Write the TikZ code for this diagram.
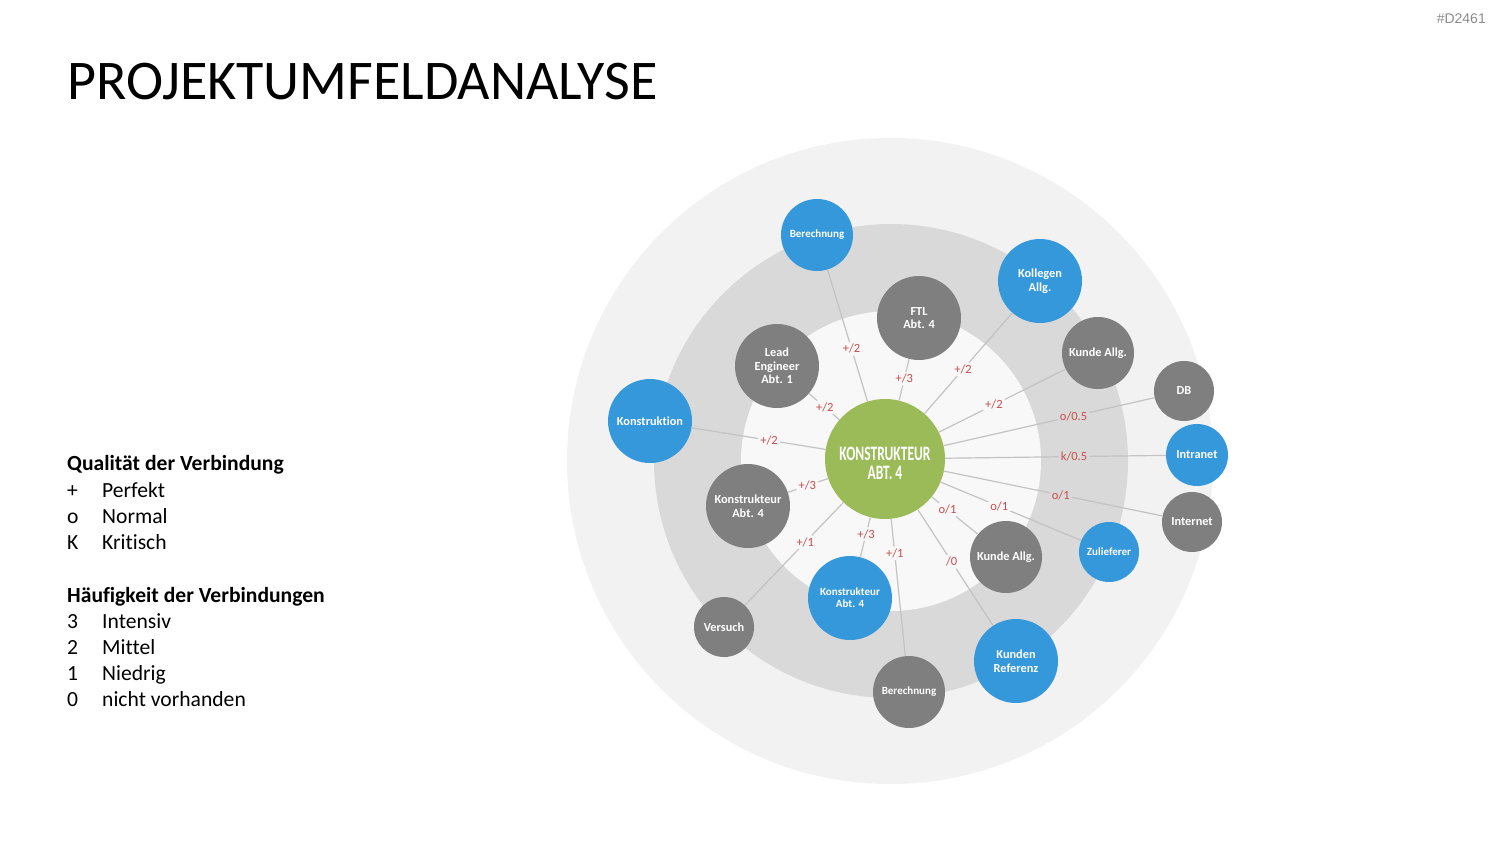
\documentclass[tikz,border=0pt]{standalone}
\usepackage{fontspec}
\setmainfont{Carlito}[Ligatures=CommonOff]
\newfontfamily\hdrfont{Liberation Sans}
\usetikzlibrary{calc}
\definecolor{ringA}{HTML}{F2F2F2}
\definecolor{ringB}{HTML}{D9D9D9}
\definecolor{ringC}{HTML}{F8F8F8}
\definecolor{nblue}{HTML}{3498DB}
\definecolor{ngrey}{HTML}{7F7F7F}
\definecolor{ngreen}{HTML}{9BBB59}
\definecolor{lred}{HTML}{C94C4C}
\definecolor{lline}{HTML}{C3C3C3}
\definecolor{hdr}{HTML}{8C8C8C}
\begin{document}
\begin{tikzpicture}[x=1pt,y=-1pt,
  bub/.style={circle, draw=none, text=white, align=center, inner sep=0pt,
    font=\bfseries\fontsize{12.3}{13.5}\selectfont},
  bubB/.style={bub, fill=nblue},
  bubG/.style={bub, fill=ngrey},
  con/.style={draw=lline, line width=1.2pt},
  lab/.style={text=lred, font=\fontsize{12.5}{13}\selectfont, inner sep=2pt},
  leg/.style={anchor=base west, inner sep=0pt, font=\fontsize{21.6}{24}\selectfont},
  legh/.style={anchor=base west, inner sep=0pt, font=\bfseries\fontsize{21.6}{24}\selectfont}]
\path[use as bounding box, fill=white] (0,0) rectangle (1500,844);

% header and title
\node[anchor=east, inner sep=0pt, text=hdr, font=\hdrfont\fontsize{14}{16}\selectfont] (hdr) at (1486,19) {\#D2461};
\node[anchor=west, inner sep=0pt, font=\fontsize{56}{60}\selectfont] (title) at (67,82) {PROJEKTUMFELDANALYSE};

% legend
\node[legh] (q) at (67,470) {Qualität der Verbindung};
\node[leg] (q1s) at (67,497) {+};  \node[leg] (q1) at (102,497) {Perfekt};
\node[leg] (q2s) at (67,523) {o};  \node[leg] (q2) at (102,523) {Normal};
\node[leg] (q3s) at (67,549) {K};  \node[leg] (q3) at (102,549) {Kritisch};
\node[legh] (h) at (67,602) {Häufigkeit der Verbindungen};
\node[leg] (h1s) at (67,628) {3};  \node[leg] (h1) at (102,628) {Intensiv};
\node[leg] (h2s) at (67,654) {2};  \node[leg] (h2) at (102,654) {Mittel};
\node[leg] (h3s) at (67,680) {1};  \node[leg] (h3) at (102,680) {Niedrig};
\node[leg] (h4s) at (67,706) {0};  \node[leg] (h4) at (102,706) {nicht vorhanden};

% rings
\fill[ringA] (890,461) circle (323);
\fill[ringB] (891,461) circle (237);
\fill[ringC] (891,461) circle (150);

% centre
\node[circle, fill=ngreen, minimum size=120pt, inner sep=0pt] (g) at (885,459) {};
\node[text=white, align=center, inner sep=0pt,
  font=\bfseries\fontsize{20.5}{19}\selectfont] (gtext) at (885,463)
  {\scalebox{0.66}[1]{KONSTRUKTEUR}\\\scalebox{0.66}[1]{ABT. 4}};

% satellites
\node[bubB, minimum size=72pt, font=\bfseries\fontsize{11}{12}\selectfont] (ber1) at (817,235) {Berechnung};
\node[bubG, minimum size=84pt] (ftl) at (919,318) {FTL\\Abt. 4};
\node[bubB, minimum size=84pt] (kol) at (1040,281) {Kollegen\\Allg.};
\node[bubG, minimum size=84pt] (lead) at (777,366) {Lead\\Engineer\\Abt. 1};
\node[bubG, minimum size=72pt] (ku1) at (1098,353) {Kunde Allg.};
\node[bubG, minimum size=60pt] (db) at (1184,391) {DB};
\node[bubB, minimum size=84pt] (kon) at (650,421) {Konstruktion};
\node[bubB, minimum size=62pt] (intra) at (1197,455) {Intranet};
\node[bubG, minimum size=60pt] (inter) at (1192,522) {Internet};
\node[bubG, minimum size=84pt] (kg) at (748,506) {Konstrukteur\\Abt. 4};
\node[bubB, minimum size=60pt, font=\bfseries\fontsize{11}{12}\selectfont] (zul) at (1109,552) {Zulieferer};
\node[bubG, minimum size=72pt] (ku2) at (1006,557) {Kunde Allg.};
\node[bubG, minimum size=60pt] (ver) at (724,627) {Versuch};
\node[bubB, minimum size=84pt, font=\bfseries\fontsize{11}{12}\selectfont] (kb) at (850,598) {Konstrukteur\\Abt. 4};
\node[bubB, minimum size=84pt] (kref) at (1016,661) {Kunden\\Referenz};
\node[bubG, minimum size=72pt, font=\bfseries\fontsize{11}{12}\selectfont] (ber2) at (909,692) {Berechnung};

% labels on connectors
\node[lab] (l1)  at ($(g)!(854,348)!(ber1)$) {+/2};
\node[lab] (l2)  at ($(g)!(910,380)!(ftl)$) {+/3};
\node[lab] (l3)  at ($(g)!(965,371)!(kol)$) {+/2};
\node[lab] (l4)  at ($(g)!(825,407)!(lead)$) {+/2};
\node[lab] (l5)  at ($(g)!(995,407)!(ku1)$) {+/2};
\node[lab] (l6)  at ($(g)!(1074,418)!(db)$) {o/0.5};
\node[lab] (l7)  at ($(g)!(769,441)!(kon)$) {+/2};
\node[lab] (l8)  at ($(g)!(1074,457)!(intra)$) {k/0.5};
\node[lab] (l9)  at ($(g)!(1061,494)!(inter)$) {o/1};
\node[lab] (l10) at ($(g)!(808,488)!(kg)$) {+/3};
\node[lab] (l11) at ($(g)!(999,507)!(zul)$) {o/1};
\node[lab] (l12) at ($(g)!(948,509)!(ku2)$) {o/1};
\node[lab] (l13) at ($(g)!(807,544)!(ver)$) {+/1};
\node[lab] (l14) at ($(g)!(870,535)!(kb)$) {+/3};
\node[lab] (l15) at ($(g)!(898,553)!(ber2)$) {+/1};
\node[lab] (l16) at ($(g)!(953,561)!(kref)$) {/0};

% connectors
\draw[con] (g) -- (l1) -- (ber1);
\draw[con] (g) -- (l2) -- (ftl);
\draw[con] (g) -- (l3) -- (kol);
\draw[con] (g) -- (l4) -- (lead);
\draw[con] (g) -- (l5) -- (ku1);
\draw[con] (g) -- (l6) -- (db);
\draw[con] (g) -- (l7) -- (kon);
\draw[con] (g) -- (l8) -- (intra);
\draw[con] (g) -- (l9) -- (inter);
\draw[con] (g) -- (l10) -- (kg);
\draw[con] (g) -- (l11) -- (zul);
\draw[con] (g) -- (l12) -- (ku2);
\draw[con] (g) -- (l13) -- (ver);
\draw[con] (g) -- (l14) -- (kb);
\draw[con] (g) -- (l15) -- (ber2);
\draw[con] (g) -- (l16) -- (kref);
\end{tikzpicture}
\end{document}
